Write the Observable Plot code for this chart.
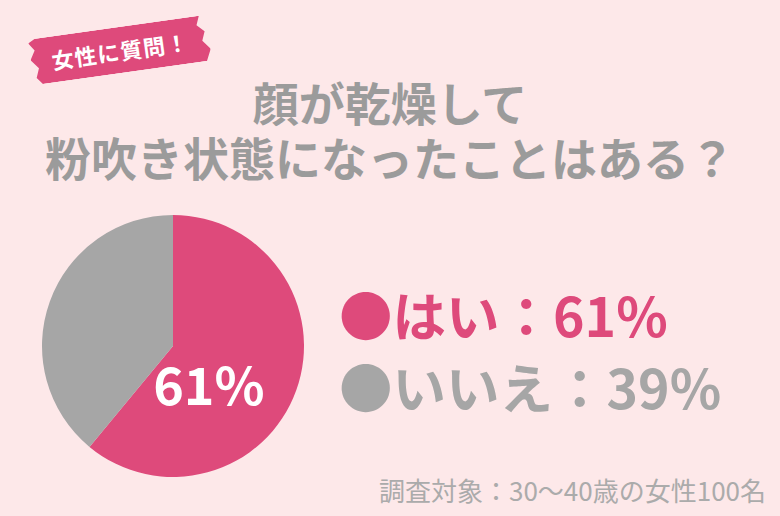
<!DOCTYPE html>
<html><head><meta charset="utf-8">
<script src="https://cdn.jsdelivr.net/npm/d3@7"></script>
<script src="https://cdn.jsdelivr.net/npm/@observablehq/plot@0.6"></script>
<style>
html,body{margin:0;padding:0;}
body{width:780px;height:516px;background:#fde8e9;position:relative;overflow:hidden;font-family:"Noto Sans CJK JP","Noto Sans",sans-serif;}
#chart{position:absolute;left:0;top:0;}
#badge{position:absolute;left:30px;top:27px;width:180px;height:46px;background:#de4a7b;transform:rotate(-8deg);
  clip-path:polygon(0% 8%,4% 0%,96% 0%,94% 20%,98% 35%,96% 55%,100% 75%,97% 100%,5% 100%,2% 85%,4% 65%,0% 45%,3% 25%);
  color:#fff;font-weight:bold;font-size:22px;line-height:46px;text-align:center;letter-spacing:1px;}
#title{position:absolute;left:0;top:74px;width:780px;text-align:center;color:#9b9b9b;font-weight:bold;font-size:46px;line-height:55px;}
#legend{position:absolute;left:339px;top:278px;font-weight:bold;font-size:53.5px;line-height:72px;white-space:nowrap;}
#caption{position:absolute;right:14px;top:474px;color:#ababab;font-size:26px;line-height:32px;white-space:nowrap;}
</style></head><body>
<div id="chart"></div>
<div id="badge"></div>
<div id="title"></div>
<div id="legend"></div>
<div id="caption"></div>
<script>
// ---- data ----
const categories = ["はい", "いいえ"];
const values = [61, 39];
const colors = ["#de4a7b", "#a6a6a6"];
const titleLines = ["顔が乾燥して", "粉吹き状態になったことはある？"];
const badgeText = "女性に質問！";
const captionText = "調査対象：30〜40歳の女性100名";
const pieLabel = "61%";

const data = categories.map((c, i) => ({category: c, value: values[i], color: colors[i]}));

// ---- layout ----
const W = 780, H = 516;
const pieBox = {left: 42, right: 304, top: 215, bottom: 477};
const labelPos = {x: 0.27, y: -0.32};

document.getElementById("badge").textContent = badgeText;
document.getElementById("title").innerHTML = titleLines.join("<br>");
document.getElementById("caption").textContent = captionText;
document.getElementById("legend").innerHTML = data.map(d =>
  `<div style="color:${d.color}">●${d.category}：${d.value}%</div>`).join("");

function pieMark(index, scales) {
  const cx = scales.x(0), cy = scales.y(0), r = scales.x(1) - cx;
  const arcs = d3.pie().sort(null).value(d => d.value)(data);
  const arc = d3.arc().innerRadius(0).outerRadius(r);
  const g = d3.create("svg:g").attr("transform", `translate(${cx},${cy})`);
  g.selectAll("path").data(arcs).join("path").attr("d", arc).attr("fill", d => d.data.color);
  return g.node();
}

const chart = Plot.plot({
  width: W, height: H,
  marginLeft: pieBox.left, marginRight: W - pieBox.right,
  marginTop: pieBox.top, marginBottom: H - pieBox.bottom,
  x: {domain: [-1, 1], axis: null},
  y: {domain: [-1, 1], axis: null},
  style: {background: "transparent", fontFamily: "'Noto Sans CJK JP','Noto Sans',sans-serif", overflow: "visible"},
  marks: [
    pieMark,
    Plot.text([labelPos], {x: "x", y: "y", text: () => pieLabel, fill: "white", fontSize: 52, fontWeight: "bold"})
  ]
});
document.getElementById("chart").appendChild(chart);
</script>
</body></html>
